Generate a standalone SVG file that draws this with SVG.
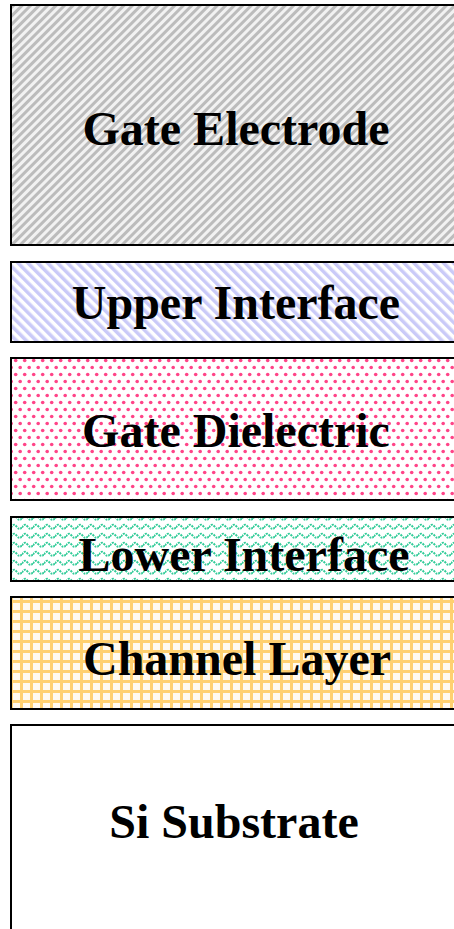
<svg xmlns="http://www.w3.org/2000/svg" width="454" height="929" viewBox="0 0 454 929">
<defs>
<pattern id="pGate" width="6" height="6" patternUnits="userSpaceOnUse" patternTransform="rotate(45)">
<rect width="6" height="6" fill="#f2f2f2"/>
<rect x="0" y="0" width="3" height="6" fill="#bcbcbc"/>
</pattern>
<pattern id="pUpper" width="7" height="7" patternUnits="userSpaceOnUse" patternTransform="rotate(-45)">
<rect width="7" height="7" fill="#ffffff"/>
<rect x="0" y="0" width="3.5" height="7" fill="#cacaf8"/>
</pattern>
<pattern id="pDiel" width="9" height="14" patternUnits="userSpaceOnUse">
<rect width="9" height="14" fill="#ffffff"/>
<circle cx="2.2" cy="3.5" r="1.8" fill="#ff4488"/>
<circle cx="6.7" cy="10.5" r="1.8" fill="#ff4488"/>
</pattern>
<pattern id="pLower" width="11" height="9" patternUnits="userSpaceOnUse">
<rect width="11" height="9" fill="#ffffff"/>
<path d="M0 5.5 Q2.75 0.5 5.5 4.5 T11 5.5" fill="none" stroke="#33cc99" stroke-width="2" stroke-dasharray="2 1"/>
</pattern>
<pattern id="pChan" width="10" height="10" patternUnits="userSpaceOnUse">
<rect width="10" height="10" fill="#fffaf0"/>
<rect x="0" y="0" width="10" height="3" fill="#ffd070"/>
<rect x="0" y="0" width="3" height="10" fill="#ffd070"/>
</pattern>
<style>
.layer{stroke:#000;stroke-width:2}
.lbl{font-family:"Liberation Serif","Times New Roman",serif;font-weight:bold;font-size:48px;fill:#000;text-anchor:middle}
</style>
</defs>
<g id="gate-electrode">
<rect class="layer" x="11" y="5" width="452" height="240" fill="url(#pGate)"/>
<text class="lbl" x="236" y="145">Gate Electrode</text>
</g>
<g id="upper-interface">
<rect class="layer" x="11" y="262" width="452" height="80" fill="url(#pUpper)"/>
<text class="lbl" x="236" y="319">Upper Interface</text>
</g>
<g id="gate-dielectric">
<rect class="layer" x="11" y="358" width="452" height="142" fill="url(#pDiel)"/>
<text class="lbl" x="236" y="447">Gate Dielectric</text>
</g>
<g id="lower-interface">
<rect class="layer" x="11" y="517" width="452" height="64" fill="url(#pLower)"/>
<text class="lbl" x="244" y="571">Lower Interface</text>
</g>
<g id="channel-layer">
<rect class="layer" x="11" y="597" width="452" height="112" fill="url(#pChan)"/>
<text class="lbl" x="237" y="675">Channel Layer</text>
</g>
<g id="si-substrate">
<rect class="layer" x="11" y="725" width="452" height="220" fill="#ffffff"/>
<text class="lbl" x="234" y="838">Si Substrate</text>
</g>
<g id="connectors"/>
</svg>
